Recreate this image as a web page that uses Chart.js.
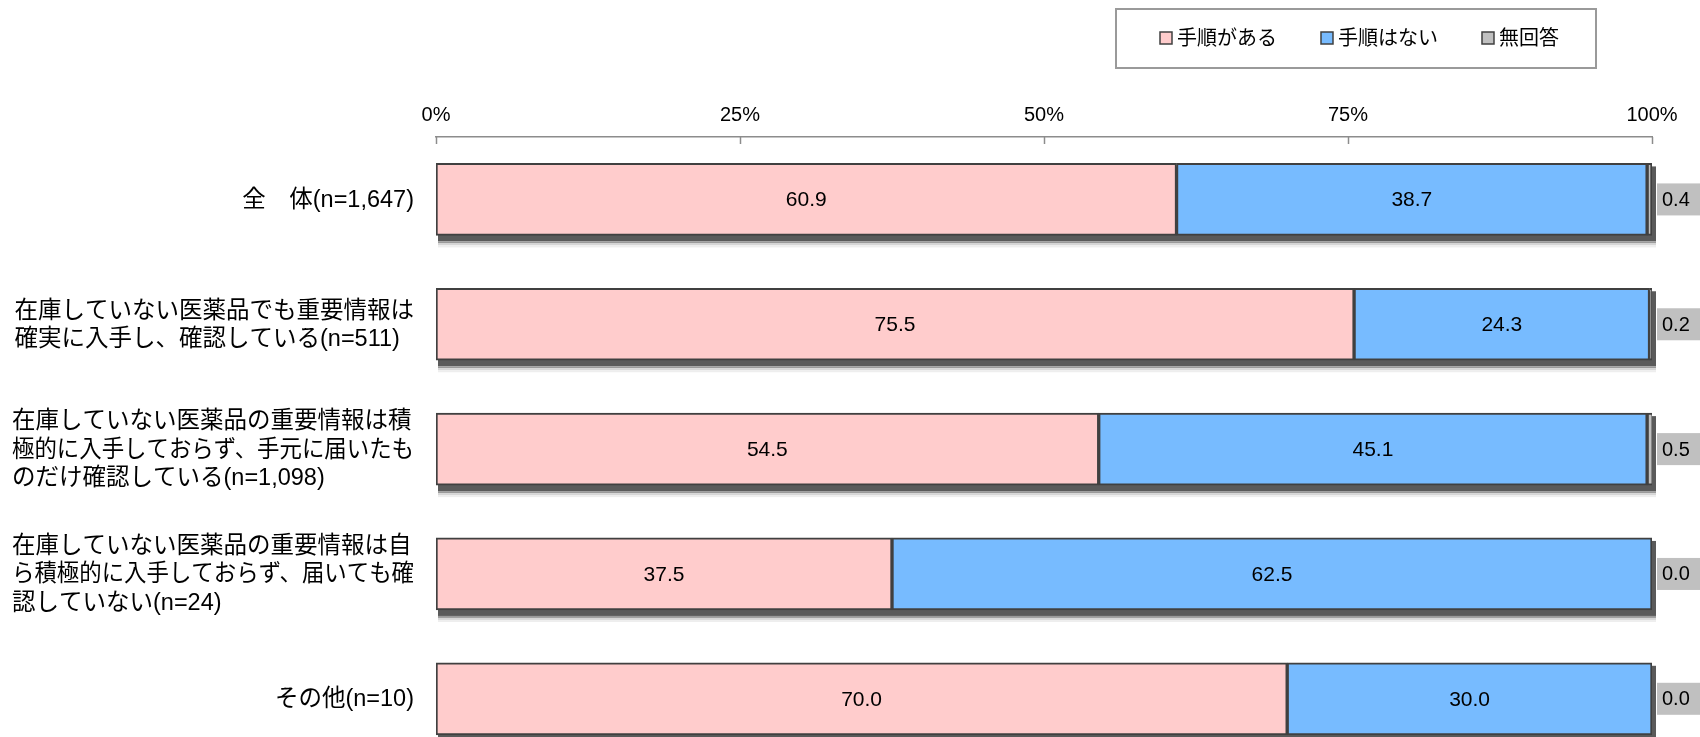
<!DOCTYPE html>
<html>
<head>
<meta charset="utf-8">
<script src="https://cdn.jsdelivr.net/npm/chart.js@4.4.1/dist/chart.umd.min.js"></script>
<style>
  html, body { margin: 0; padding: 0; background: #fff; overflow: hidden; }
  #wrap { width: 1700px; height: 737px; position: relative; }
</style>
</head>
<body>
<div id="wrap"><canvas id="c" width="1700" height="737"></canvas></div>
<script>
// ---- data ----
const categories = [
  ["全　体(n=1,647)"],
  ["在庫していない医薬品でも重要情報は", "確実に入手し、確認している(n=511)"],
  ["在庫していない医薬品の重要情報は積", "極的に入手しておらず、手元に届いたも", "のだけ確認している(n=1,098)"],
  ["在庫していない医薬品の重要情報は自", "ら積極的に入手しておらず、届いても確", "認していない(n=24)"],
  ["その他(n=10)"]
];
const seriesNames = ["手順がある", "手順はない", "無回答"];
const withProcedure    = [60.9, 75.5, 54.5, 37.5, 70.0];
const withoutProcedure = [38.7, 24.3, 45.1, 62.5, 30.0];
const noAnswer         = [0.4, 0.2, 0.5, 0.0, 0.0];
const tickStep = 25;
const tickSuffix = "%";

// ---- styles ----
const FONT = '"Liberation Sans", "Noto Sans CJK JP", sans-serif';
const colors = ["#FFCCCC", "#77BBFF", "#C0C0C0"];
const edge = "#404040";

const seriesValues = [withProcedure, withoutProcedure, noAnswer];
const datasets = seriesValues.map((arr, k) => ({
  label: seriesNames[k],
  data: arr.map((v, i) => ({ x: v, y: i })),
  backgroundColor: colors[k],
  borderColor: edge,
  borderWidth: 2,
  borderSkipped: false,
  barThickness: 72
}));

const shadowPlugin = {
  id: 'shadow',
  beforeDatasetsDraw(chart) {
    const ctx = chart.ctx, xs = chart.scales.x;
    const meta = chart.getDatasetMeta(0);
    meta.data.forEach((el, i) => {
      const total = withProcedure[i] + withoutProcedure[i] + noAnswer[i];
      const l = xs.getPixelForValue(0), r = xs.getPixelForValue(Math.min(total, 100));
      const top = el.y - el.height / 2, bot = el.y + el.height / 2;
      ctx.save();
      ctx.fillStyle = '#5a5a5a';
      ctx.fillRect(l + 2, top + 3, r - l + 2, bot - top + 3);
      ctx.fillStyle = '#9a9a9a';
      ctx.fillRect(l + 2, bot + 6, r - l + 2, 2);
      ctx.fillStyle = '#d6d6d6';
      ctx.fillRect(l + 2, bot + 8, r - l + 2, 2);
      ctx.fillStyle = '#eeeeee';
      ctx.fillRect(l + 2, bot + 10, r - l + 2, 2);
      ctx.restore();
    });
  }
};

const labelPlugin = {
  id: 'labels',
  afterDatasetsDraw(chart) {
    const ctx = chart.ctx, area = chart.chartArea;
    ctx.save();
    ctx.font = '21px ' + FONT;
    ctx.textBaseline = 'middle';
    [0, 1].forEach(k => {
      chart.getDatasetMeta(k).data.forEach((el, i) => {
        const v = seriesValues[k][i];
        if (v <= 0) return;
        ctx.fillStyle = '#000';
        ctx.textAlign = 'center';
        ctx.fillText(v.toFixed(1), (el.x + el.base) / 2, el.y + 1);
      });
    });
    ctx.font = '20px ' + FONT;
    chart.getDatasetMeta(2).data.forEach((el, i) => {
      const v = noAnswer[i];
      const bx = area.right + 5;
      ctx.fillStyle = colors[2];
      ctx.fillRect(bx, el.y - 16, 60, 32);
      ctx.fillStyle = '#000';
      ctx.textAlign = 'left';
      ctx.fillText(v.toFixed(1), bx + 5, el.y + 1);
    });
    ctx.restore();
  },
  afterDraw(chart) {
    const ctx = chart.ctx, area = chart.chartArea, ys = chart.scales.y, xs = chart.scales.x;
    ctx.save();
    // tick marks pointing down from the top axis line
    ctx.strokeStyle = '#8c8c8c';
    ctx.lineWidth = 1.5;
    xs.ticks.forEach((t, i) => {
      const x = Math.round(xs.getPixelForTick(i)) + 0.5;
      ctx.beginPath();
      ctx.moveTo(x, area.top);
      ctx.lineTo(x, area.top + 7);
      ctx.stroke();
    });
    // category labels: block right-aligned, lines left-aligned, wrap width limited
    ctx.font = '23.5px ' + FONT;
    ctx.fillStyle = '#000';
    ctx.textBaseline = 'middle';
    ctx.textAlign = 'left';
    const lh = 28.5;
    const maxW = 402;
    categories.forEach((lines, i) => {
      const cy = ys.getPixelForValue(i);
      const w = Math.min(maxW, Math.max(...lines.map(s => ctx.measureText(s).width)));
      const x = area.left - 22 - w;
      const y0 = cy - (lines.length - 1) * lh / 2;
      lines.forEach((s, j) => ctx.fillText(s, x, y0 + j * lh + 1, maxW));
    });
    // legend box
    ctx.strokeStyle = '#9a9a9a';
    ctx.lineWidth = 2;
    ctx.strokeRect(1116, 9, 480, 59);
    ctx.font = '20px ' + FONT;
    let lx = 1160;
    chart.data.datasets.forEach(ds => {
      ctx.fillStyle = ds.backgroundColor;
      ctx.fillRect(lx, 32, 12, 12);
      ctx.strokeStyle = edge;
      ctx.lineWidth = 1.5;
      ctx.strokeRect(lx, 32, 12, 12);
      ctx.fillStyle = '#000';
      ctx.fillText(ds.label, lx + 17, 39);
      lx += 17 + ctx.measureText(ds.label).width + 44;
    });
    ctx.restore();
  }
};

new Chart(document.getElementById('c'), {
  type: 'bar',
  data: { datasets },
  options: {
    indexAxis: 'y',
    responsive: false,
    animation: false,
    layout: { padding: { top: 93, right: 48, bottom: 0, left: 0 } },
    plugins: { legend: { display: false }, tooltip: { enabled: false } },
    scales: {
      x: {
        type: 'linear',
        position: 'top',
        stacked: true,
        min: 0, max: 100,
        grid: { display: false, drawTicks: false },
        border: { display: true, color: '#8c8c8c', width: 1.5 },
        ticks: {
          stepSize: tickStep,
          padding: 10,
          color: '#000',
          font: { size: 20, family: FONT },
          callback: v => v + tickSuffix
        }
      },
      y: {
        type: 'linear',
        reverse: true,
        stacked: true,
        offset: false,
        bounds: 'data',
        min: -0.5, max: 4.306,
        grid: { display: false, drawTicks: false, offset: false },
        border: { display: false },
        ticks: { display: false, stepSize: 1 },
        afterFit: s => { s.width = 436; }
      }
    }
  },
  plugins: [shadowPlugin, labelPlugin]
});
</script>
</body>
</html>
